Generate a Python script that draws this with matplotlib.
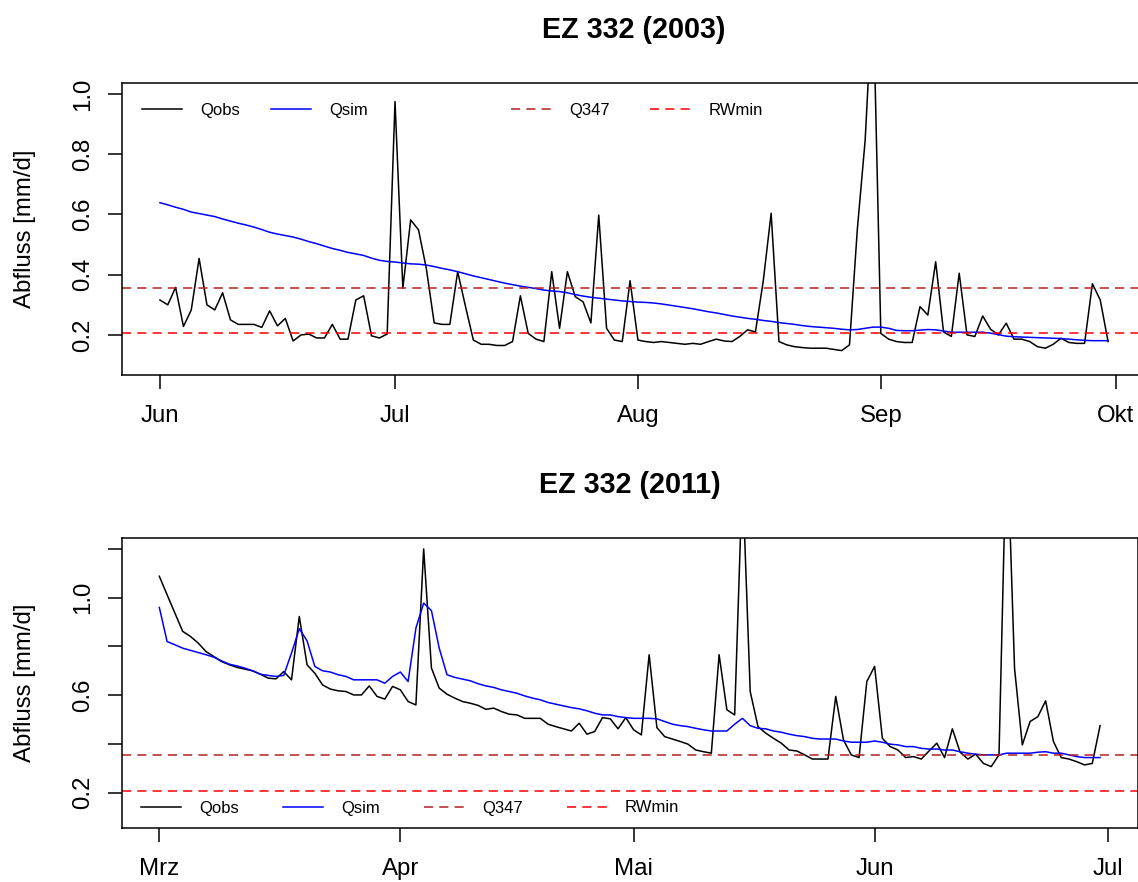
import matplotlib.pyplot as plt
import pandas as pd
from matplotlib.lines import Line2D

plt.rcParams['font.family'] = ['Liberation Sans', 'DejaVu Sans']

# %% daily discharge, summer 2003
days_2003 = pd.date_range('2003-06-01', '2003-09-30')
qobs_2003 = [0.316, 0.300, 0.358, 0.228, 0.283, 0.454, 0.300, 0.283, 0.340, 0.250,
             0.235, 0.235, 0.235, 0.225, 0.280, 0.230, 0.255, 0.180, 0.200, 0.203,
             0.190, 0.190, 0.235, 0.186, 0.186, 0.316, 0.330, 0.197, 0.190, 0.203,
             0.975, 0.355, 0.582, 0.549, 0.420, 0.240, 0.235, 0.235, 0.410, 0.294,
             0.183, 0.169, 0.169, 0.165, 0.165, 0.178, 0.330, 0.205, 0.186, 0.178,
             0.410, 0.222, 0.410, 0.327, 0.310, 0.240, 0.598, 0.222, 0.183, 0.178,
             0.380, 0.183, 0.178, 0.175, 0.178, 0.175, 0.172, 0.169, 0.172, 0.169,
             0.178, 0.186, 0.180, 0.178, 0.195, 0.217, 0.210, 0.380, 0.604, 0.178,
             0.167, 0.161, 0.158, 0.156, 0.156, 0.156, 0.152, 0.148, 0.167, 0.550,
             0.847, 1.350, 0.205, 0.186, 0.178, 0.175, 0.175, 0.294, 0.266, 0.443,
             0.210, 0.195, 0.405, 0.200, 0.195, 0.263, 0.219, 0.200, 0.239, 0.186,
             0.186, 0.178, 0.161, 0.156, 0.169, 0.189, 0.175, 0.172, 0.172, 0.370,
             0.316, 0.178]
qsim_2003 = [0.639, 0.632, 0.624, 0.617, 0.608, 0.603, 0.598, 0.593, 0.585, 0.578,
             0.571, 0.565, 0.558, 0.550, 0.541, 0.535, 0.530, 0.525, 0.518, 0.510,
             0.503, 0.495, 0.487, 0.481, 0.474, 0.469, 0.464, 0.455, 0.448, 0.444,
             0.442, 0.439, 0.436, 0.435, 0.432, 0.427, 0.421, 0.416, 0.410, 0.403,
             0.396, 0.390, 0.384, 0.378, 0.372, 0.367, 0.362, 0.358, 0.354, 0.349,
             0.346, 0.344, 0.340, 0.334, 0.329, 0.325, 0.322, 0.319, 0.316, 0.313,
             0.311, 0.309, 0.308, 0.306, 0.303, 0.299, 0.295, 0.291, 0.287, 0.282,
             0.277, 0.273, 0.268, 0.263, 0.259, 0.255, 0.252, 0.248, 0.245, 0.241,
             0.238, 0.235, 0.231, 0.228, 0.226, 0.224, 0.222, 0.219, 0.217, 0.218,
             0.222, 0.226, 0.226, 0.222, 0.215, 0.214, 0.214, 0.216, 0.218, 0.217,
             0.213, 0.209, 0.209, 0.209, 0.209, 0.209, 0.206, 0.201, 0.196, 0.194,
             0.193, 0.192, 0.191, 0.190, 0.189, 0.188, 0.186, 0.184, 0.182, 0.181,
             0.181, 0.181]

# %% daily discharge, spring 2011
days_2011 = pd.date_range('2011-03-01', '2011-06-30')
qobs_2011 = [1.088, 1.012, 0.937, 0.862, 0.841, 0.814, 0.779, 0.759, 0.738, 0.725,
             0.714, 0.707, 0.700, 0.686, 0.670, 0.667, 0.697, 0.663, 0.923, 0.725,
             0.690, 0.642, 0.625, 0.618, 0.615, 0.601, 0.601, 0.638, 0.595, 0.584,
             0.636, 0.622, 0.574, 0.560, 1.200, 0.711, 0.629, 0.604, 0.588, 0.574,
             0.567, 0.558, 0.542, 0.547, 0.533, 0.522, 0.519, 0.505, 0.505, 0.505,
             0.481, 0.471, 0.462, 0.453, 0.485, 0.440, 0.451, 0.508, 0.503, 0.462,
             0.508, 0.458, 0.437, 0.766, 0.467, 0.430, 0.420, 0.410, 0.399, 0.375,
             0.368, 0.362, 0.766, 0.540, 0.519, 1.500, 0.615, 0.471, 0.444, 0.423,
             0.403, 0.375, 0.371, 0.355, 0.338, 0.338, 0.338, 0.595, 0.416, 0.355,
             0.344, 0.656, 0.718, 0.423, 0.389, 0.375, 0.344, 0.348, 0.338, 0.371,
             0.403, 0.344, 0.462, 0.366, 0.338, 0.358, 0.320, 0.307, 0.355, 1.700,
             0.710, 0.396, 0.492, 0.512, 0.577, 0.410, 0.344, 0.338, 0.327, 0.314,
             0.320, 0.475]
qsim_2011 = [0.960, 0.820, 0.807, 0.793, 0.784, 0.775, 0.766, 0.756, 0.741, 0.727,
             0.720, 0.711, 0.700, 0.686, 0.681, 0.677, 0.681, 0.773, 0.873, 0.823,
             0.718, 0.700, 0.695, 0.684, 0.677, 0.663, 0.663, 0.663, 0.663, 0.649,
             0.677, 0.695, 0.656, 0.875, 0.978, 0.947, 0.793, 0.684, 0.673, 0.666,
             0.659, 0.647, 0.638, 0.632, 0.622, 0.615, 0.608, 0.597, 0.588, 0.581,
             0.570, 0.563, 0.556, 0.549, 0.544, 0.536, 0.526, 0.519, 0.519, 0.512,
             0.508, 0.505, 0.505, 0.505, 0.503, 0.492, 0.481, 0.475, 0.471, 0.464,
             0.458, 0.453, 0.453, 0.453, 0.481, 0.505, 0.475, 0.464, 0.462, 0.453,
             0.448, 0.440, 0.434, 0.430, 0.423, 0.420, 0.420, 0.420, 0.412, 0.407,
             0.407, 0.407, 0.412, 0.407, 0.399, 0.396, 0.389, 0.389, 0.382, 0.379,
             0.379, 0.375, 0.375, 0.368, 0.362, 0.358, 0.355, 0.355, 0.355, 0.362,
             0.362, 0.362, 0.362, 0.366, 0.368, 0.362, 0.362, 0.355, 0.348, 0.344,
             0.344, 0.344]

# thresholds
q347 = 0.355
rwmin = 0.205

months_2003 = pd.to_datetime(['2003-06-01', '2003-07-01', '2003-08-01', '2003-09-01', '2003-10-01'])
month_labels_2003 = ['Jun', 'Jul', 'Aug', 'Sep', 'Okt']
months_2011 = pd.to_datetime(['2011-03-01', '2011-04-01', '2011-05-01', '2011-06-01', '2011-07-01'])
month_labels_2011 = ['Mrz', 'Apr', 'Mai', 'Jun', 'Jul']

yticks_2003 = [0.2, 0.4, 0.6, 0.8, 1.0]
ylabels_2003 = ['0.2', '0.4', '0.6', '0.8', '1.0']
yticks_2011 = [0.2, 0.4, 0.6, 0.8, 1.0, 1.2]
ylabels_2011 = ['0.2', '', '0.6', '', '1.0', '']

Q347_COL = '#b22222'
LW = 1.1
DASH = (0, (6, 4))

W, H = 1138, 882
fig = plt.figure(figsize=(W / 100, H / 100), dpi=100)
ax1 = fig.add_axes([122 / W, 1 - 375 / H, 1024 / W, 292 / H])
ax2 = fig.add_axes([121.7 / W, 1 - 828 / H, 1016 / W, 290 / H])


def panel(ax, days, qobs, qsim, title, ylim, yticks, ylabels, months, month_labels):
    ax.plot(days, qobs, color='black', lw=LW)
    ax.plot(days, qsim, color='blue', lw=LW)
    ax.axhline(q347, color=Q347_COL, lw=LW, ls=DASH)
    ax.axhline(rwmin, color='red', lw=LW, ls=DASH)

    pad = pd.Timedelta(days=0.04 * (len(days) - 1))
    ax.set_xlim(days[0] - pad, days[-1] + pad)
    ax.set_ylim(*ylim)
    ax.set_xticks(months, month_labels, fontsize=17.3)
    ax.set_yticks(yticks, ylabels, fontsize=17.3, rotation=90, va='center')
    ax.tick_params(axis='both', length=10, width=LW, direction='out')
    ax.tick_params(axis='x', pad=11.5)
    ax.tick_params(axis='y', pad=10)
    for s in ax.spines.values():
        s.set_linewidth(LW)

    ax.set_title(title, fontsize=20.7, fontweight='bold', pad=32.5)
    ax.set_ylabel('Abfluss [mm/d]', fontsize=17.3)
    ax.yaxis.label.set_va('center')


panel(ax1, days_2003, qobs_2003, qsim_2003, 'EZ 332 (2003)', (0.067, 1.0365),
      yticks_2003, ylabels_2003, months_2003, month_labels_2003)
panel(ax2, days_2011, qobs_2011, qsim_2011, 'EZ 332 (2011)', (0.055, 1.245),
      yticks_2011, ylabels_2011, months_2011, month_labels_2011)
ax1.yaxis.set_label_coords((25 - 122) / 1024, 0.5)
ax2.yaxis.set_label_coords((25 - 121.7) / 1016, 0.5)

# legend entries
h_obs = Line2D([], [], color='black', lw=LW)
h_sim = Line2D([], [], color='blue', lw=LW)
h_q347 = Line2D([], [], color=Q347_COL, lw=LW, ls=DASH)
h_rw = Line2D([], [], color='red', lw=LW, ls=DASH)
leg_kw = dict(frameon=False, fontsize=12, loc='center left', handlelength=2.4,
              handletextpad=1.08, borderpad=0, borderaxespad=0)

leg_a = ax1.legend([h_obs, h_sim], ['Qobs', 'Qsim'], ncol=2, columnspacing=1.9,
                   bbox_to_anchor=((142 - 122) / 1024, 1 - 27.5 / 292), **leg_kw)
ax1.add_artist(leg_a)
ax1.legend([h_q347, h_rw], ['Q347', 'RWmin'], ncol=2, columnspacing=2.45,
           bbox_to_anchor=((511 - 122) / 1024, 1 - 27.5 / 292), **leg_kw)

ax2.legend([h_obs, h_sim, h_q347, h_rw], ['Qobs', 'Qsim', 'Q347', 'RWmin'], ncol=4,
           columnspacing=2.65, bbox_to_anchor=((141 - 121.7) / 1016, 20 / 290), **leg_kw)

fig.savefig('out.png', dpi=100)
